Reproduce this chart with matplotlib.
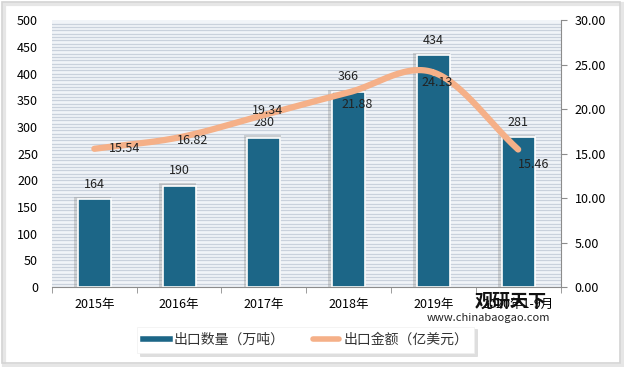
import numpy as np
import matplotlib.pyplot as plt
from matplotlib.patches import Rectangle

plt.rcParams['font.family'] = ['Noto Sans CJK SC', 'DejaVu Sans']

categories = ['2015年', '2016年', '2017年', '2018年', '2019年', '2020年1-9月']
volume = [164, 190, 280, 366, 434, 281]          # 出口数量（万吨）
value = [15.54, 16.82, 19.34, 21.88, 24.13, 15.46]  # 出口金额（亿美元）

# label offsets for the line values, in points
value_offsets = [(22, 0), (10, -2), (3, 3), (6, -9), (3, -7), (11, -11)]

bar_color = '#1c6687'
line_color = '#f5b088'


def smooth(xs, ys, n=30):
    # catmull-rom curve through the points, like excel's smoothed line
    p = np.column_stack([xs, ys]).astype(float)
    p = np.vstack([p[0] * 2 - p[1], p, p[-1] * 2 - p[-2]])
    out = []
    t = np.linspace(0, 1, n)[:, None]
    for i in range(1, len(p) - 2):
        p0, p1, p2, p3 = p[i - 1], p[i], p[i + 1], p[i + 2]
        seg = 0.5 * ((2 * p1) + (-p0 + p2) * t + (2 * p0 - 5 * p1 + 4 * p2 - p3) * t ** 2
                     + (-p0 + 3 * p1 - 3 * p2 + p3) * t ** 3)
        out.append(seg)
    out = np.vstack(out)
    return out[:, 0], out[:, 1]


fig = plt.figure(figsize=(6.24, 3.67), dpi=100)
fig.patch.set_facecolor('white')
# outer frame with a soft shadow on the right / bottom
fig.patches.append(Rectangle((0.006, 0.004), 0.99, 0.985, transform=fig.transFigure,
                             fill=False, edgecolor='#e6e6e6', lw=3))
fig.patches.append(Rectangle((0.003, 0.012), 0.99, 0.982, transform=fig.transFigure,
                             fill=False, edgecolor='#d4d4d4', lw=1.2))

ax = fig.add_axes([0.0833, 0.218, 0.815, 0.727])
x = np.arange(len(categories))

# striped background
ax.set_facecolor('#f1f4f8')
for yy in np.arange(0, 500, 500 / 80):
    ax.axhline(yy, color='#c9d1dc', lw=0.9, zorder=0)

# bar shadows then bars
ax.bar(x - 0.02, np.array(volume) + 4, width=0.44, color='#7f7f7f', alpha=0.3,
       zorder=1, linewidth=0)
ax.bar(x, volume, width=0.39, color=bar_color, edgecolor='white', linewidth=1.2, zorder=2)
for xi, v in zip(x, volume):
    ax.annotate(str(v), (xi, v), xytext=(0, 6), textcoords='offset points',
                ha='center', va='bottom', fontsize=9, color='#222222', zorder=5)

ax.set_xlim(-0.5, len(categories) - 0.5)
ax.set_ylim(0, 500)
ax.set_yticks(np.arange(0, 501, 50))
ax.set_xticks(x)
ax.set_xticklabels(categories)
ax.set_xticks(np.arange(-0.5, len(categories), 1), minor=True)
ax.tick_params(axis='x', which='major', length=0, pad=8, labelsize=9)
ax.tick_params(axis='x', which='minor', length=4, color='#8c8c8c')
ax.tick_params(axis='y', length=0, labelsize=9, pad=10)
for s in ['top', 'right', 'left']:
    ax.spines[s].set_visible(False)
ax.spines['bottom'].set_color('#8c8c8c')

ax2 = ax.twinx()
ax2.set_ylim(0, 30)
ax2.set_yticks(np.arange(0, 31, 5))
ax2.set_yticklabels([f'{t:.2f}' for t in np.arange(0, 31, 5)])
ax2.tick_params(axis='y', length=4, color='#8c8c8c', labelsize=9, pad=6)
for s in ['top', 'left', 'bottom']:
    ax2.spines[s].set_visible(False)
ax2.spines['right'].set_color('#8c8c8c')

sx, sy = smooth(x, value)
ax2.plot(sx, sy, color=line_color, lw=4.5, solid_capstyle='round', zorder=3)
for xi, v, off in zip(x, value, value_offsets):
    ax2.annotate(f'{v:.2f}', (xi, v), xytext=off, textcoords='offset points',
                 ha='center', va='center', fontsize=9, color='#222222', zorder=5)

# legend
h1 = plt.Line2D([], [], color=bar_color, lw=4)
h2 = plt.Line2D([], [], color=line_color, lw=4, solid_capstyle='round')
leg = fig.legend([h1, h2], ['出口数量（万吨）', '出口金额（亿美元）'],
                 loc='center', bbox_to_anchor=(0.49, 0.074), ncol=2, fontsize=10,
                 frameon=True, fancybox=False,
                 shadow={'color': '#c8c8c8', 'alpha': 0.6},
                 handlelength=1.9, handletextpad=0.3, labelcolor='#333333',
                 columnspacing=2.0, borderpad=0.45, borderaxespad=0)
leg.get_frame().set_edgecolor('#f0f0f0')
leg.get_frame().set_linewidth(0.5)

# watermark
fig.text(0.818, 0.178, '观研天下', fontsize=13, fontweight='bold', color='#111111',
         ha='center', va='center')
fig.text(0.782, 0.133, 'www.chinabaogao.com', fontsize=8, color='#222222',
         ha='center', va='center')

fig.savefig('out.png', dpi=100)
